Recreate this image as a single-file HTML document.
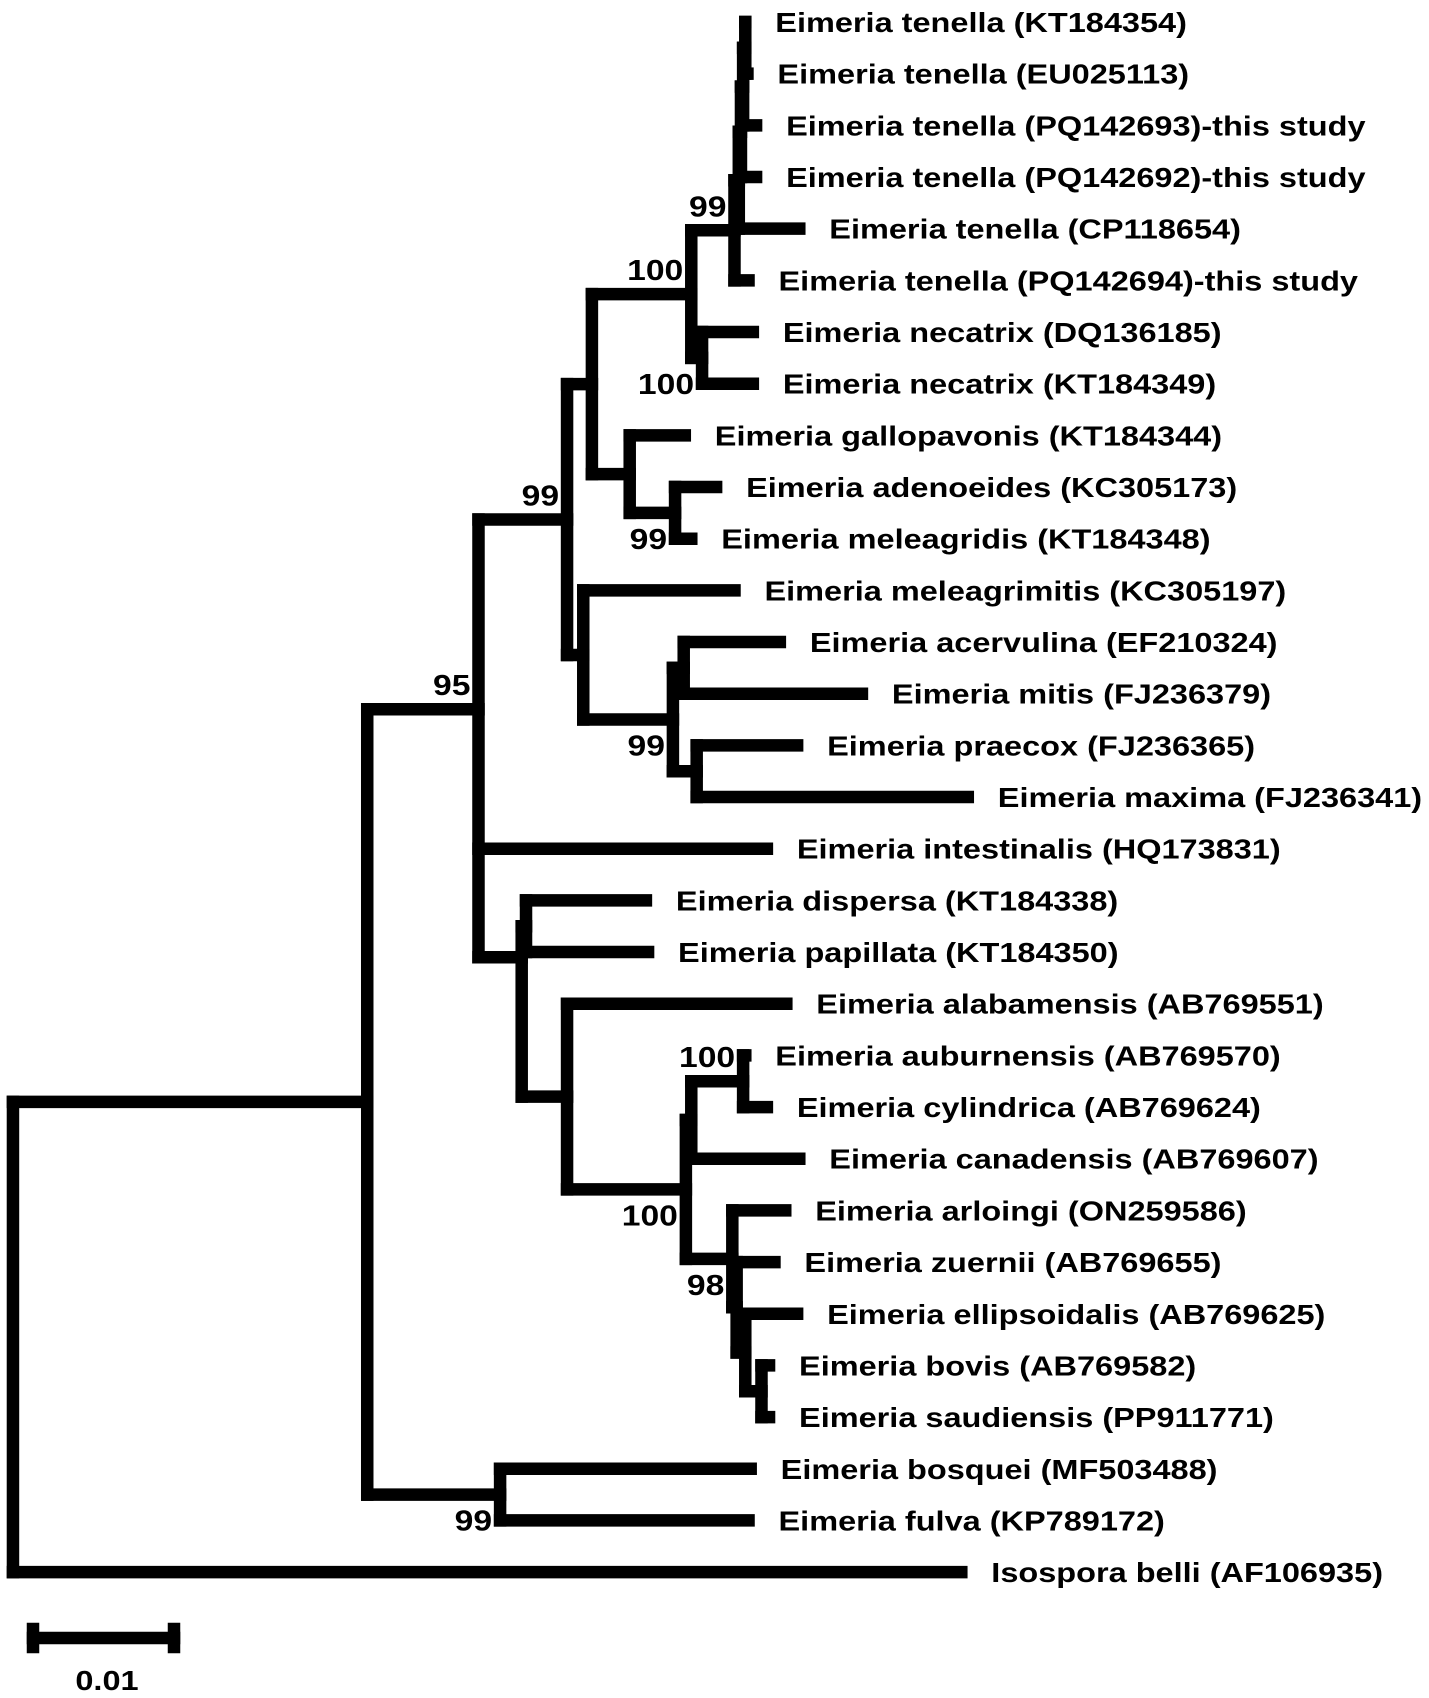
<!DOCTYPE html>
<html><head><meta charset="utf-8"><style>
html,body{margin:0;padding:0;background:#fff}
svg{display:block}
text{font-family:"Liberation Sans",Arial,sans-serif;font-weight:bold;fill:#000}
</style></head><body>
<svg id="tree" width="1429" height="1698" viewBox="0 0 1429 1698" xmlns="http://www.w3.org/2000/svg"></svg>
<script>
// Leaf labels, top to bottom
const leafNames = [
"Eimeria tenella (KT184354)","Eimeria tenella (EU025113)","Eimeria tenella (PQ142693)-this study",
"Eimeria tenella (PQ142692)-this study","Eimeria tenella (CP118654)","Eimeria tenella (PQ142694)-this study",
"Eimeria necatrix (DQ136185)","Eimeria necatrix (KT184349)","Eimeria gallopavonis (KT184344)",
"Eimeria adenoeides (KC305173)","Eimeria meleagridis (KT184348)","Eimeria meleagrimitis (KC305197)",
"Eimeria acervulina (EF210324)","Eimeria mitis (FJ236379)","Eimeria praecox (FJ236365)",
"Eimeria maxima (FJ236341)","Eimeria intestinalis (HQ173831)","Eimeria dispersa (KT184338)",
"Eimeria papillata (KT184350)","Eimeria alabamensis (AB769551)","Eimeria auburnensis (AB769570)",
"Eimeria cylindrica (AB769624)","Eimeria canadensis (AB769607)","Eimeria arloingi (ON259586)",
"Eimeria zuernii (AB769655)","Eimeria ellipsoidalis (AB769625)","Eimeria bovis (AB769582)",
"Eimeria saudiensis (PP911771)","Eimeria bosquei (MF503488)","Eimeria fulva (KP789172)",
"Isospora belli (AF106935)"];
// Cumulative distance from root for each leaf (tree units, same order)
const leafDepth = [690,692,700,700,740,693,697,697,634,663,640,680,722,798,738,896,710,598,600,728,690,710,740,727,717,738,712,712,695,693,890];
// Internal node depths
const nodeDepth = {n1:12,nA:340,nC:463,nB:443,nD:525,nF:548,nG:640,nH:680,nH2:684,nH3:686,nH4:688,nH5:690,nNec:650,nI:583,nJ:625,nK:540,nL:623,nM:633,nN:645,nE:483,nO:487,nQ:525,nR:635,nS:640,nT:688,nU:678,nV:682,nW:690,nX:705};
const nodeChildren = {
 n1:["nA",30], nA:["nB","nC"], nC:[28,29], nB:["nD",16,"nE"], nD:["nF","nK"], nF:["nG","nI"],
 nG:["nH","nNec"], nH:["nH2",5], nH2:["nH3",4], nH3:["nH4",3], nH4:["nH5",2], nH5:[0,1], nNec:[6,7],
 nI:[8,"nJ"], nJ:[9,10], nK:[11,"nL"], nL:["nM","nN"], nM:[12,13], nN:[14,15],
 nE:["nO","nQ"], nO:[17,18], nQ:[19,"nR"], nR:["nS","nU"], nS:["nT",22], nT:[20,21],
 nU:[23,"nV"], nV:[24,"nW"], nW:[25,"nX"], nX:[26,27]};
// node vertical position overrides (in leaf-row units)
const nodeRowOverride = {nB:13.3, nE:18.1};
const bootNodes = ["nH","nG","nNec","nD","nJ","nB","nL","nT","nR","nU","nC"];
const bootValues = [99,100,100,99,99,95,99,100,100,98,99];
const bootPlace = ["a","a","b","a","b","a","b","a","b","b","b"];

const svg = document.getElementById('tree');
const NS = "http://www.w3.org/2000/svg";
const sx = 1429/1323;
const X = d => d*sx;
const Y = i => 22 + 51.67*i;
const LW = 12.5;
const STRETCH = 1.16;

function line(x1,y1,x2,y2,name){
  const l=document.createElementNS(NS,'line');
  l.setAttribute('x1',x1);l.setAttribute('y1',y1);l.setAttribute('x2',x2);l.setAttribute('y2',y2);
  l.setAttribute('stroke','#000');l.setAttribute('stroke-width',LW);l.setAttribute('stroke-linecap','square');
  
  
  svg.appendChild(l);
}
function text(x,y,s,anchor,name,size){
  const t=document.createElementNS(NS,'text');
  t.setAttribute('y',y);t.setAttribute('font-size',size||28);
  t.textContent=s;
  
  
  svg.appendChild(t);
  t.setAttribute('x',0);
  const w=t.getComputedTextLength()*STRETCH;
  t.setAttribute('textLength',w);
  t.setAttribute('lengthAdjust','spacingAndGlyphs');
  let x0=x;
  if(anchor==='end') x0=x-w; else if(anchor==='middle') x0=x-w/2;
  t.setAttribute('x',x0);
}
const nodeY = {};
function getY(c){
  if(typeof c==='number') return Y(c);
  if(nodeY[c]!==undefined) return nodeY[c];
  if(nodeRowOverride[c]!==undefined){ nodeY[c]=Y(nodeRowOverride[c]); return nodeY[c]; }
  const ch=nodeChildren[c];
  const ys=ch.map(getY);
  nodeY[c]=(ys[0]+ys[ys.length-1])/2;
  return nodeY[c];
}
function draw(n){
  const x=X(nodeDepth[n]);
  const ch=nodeChildren[n];
  const ys=ch.map(getY).concat([getY(n)]);
  line(x,Math.min(...ys),x,Math.max(...ys),'branch-vertical-'+n);
  ch.forEach((c)=>{
    const y=getY(c);
    if(typeof c==='number'){
      line(x,y,X(leafDepth[c]),y,'leaf-branch');
      text(X(leafDepth[c])+30,y+10,leafNames[c],null,'leaf-label');
    } else {
      line(x,y,X(nodeDepth[c]),y,'internal-branch-'+c);
      draw(c);
    }
  });
}
getY('n1');
draw('n1');
bootNodes.forEach((n,i)=>{
  const x=X(nodeDepth[n])-8, y=getY(n);
  text(x, bootPlace[i]==='a'? y-14 : y+36, String(bootValues[i]),'end','bootstrap-label',29);
});
// scale bar
line(33,1638,174,1638,'scale-bar');
line(33,1629,33,1647,'scale-bar-cap-left');
line(174,1629,174,1647,'scale-bar-cap-right');
text(107,1690,'0.01','middle','scale-bar-label',28);
</script>
</body></html>
